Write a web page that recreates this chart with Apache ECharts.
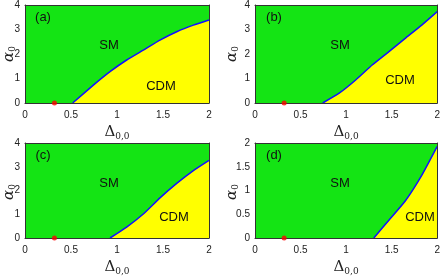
<!DOCTYPE html>
<html><head><meta charset="utf-8">
<script src="https://cdn.jsdelivr.net/npm/echarts@6/dist/echarts.min.js"></script>
<style>html,body{margin:0;padding:0;background:#fff}#c{width:443px;height:277px}</style>
</head><body><div id="c"></div>
<script>
// Phase boundary data (Delta_{0,0}, alpha_0) for each panel
const boundaryA_x = [0.518, 0.743, 0.924, 1.105, 1.286, 1.467, 1.649, 1.83, 2.0];
const boundaryA_y = [0, 0.73, 1.28, 1.755, 2.16, 2.57, 2.91, 3.18, 3.39];
const boundaryB_x = [0.743, 0.924, 1.105, 1.286, 1.467, 1.649, 1.83, 2.0];
const boundaryB_y = [0, 0.4, 0.94, 1.55, 2.09, 2.64, 3.18, 3.73];
const boundaryC_x = [0.924, 1.105, 1.286, 1.467, 1.649, 1.83, 2.0];
const boundaryC_y = [0, 0.46, 1.01, 1.69, 2.3, 2.84, 3.27];
const boundaryD_x = [1.304, 1.467, 1.649, 1.83, 2.0];
const boundaryD_y = [0, 0.37, 0.78, 1.32, 1.93];
const redPoint = [0.32, 0];
const xTicks = [0, 0.5, 1, 1.5, 2];
const yMaxes = [4, 4, 4, 2];
const yIntervals = [1, 1, 1, 0.5];
const panelLabels = ['(a)', '(b)', '(c)', '(d)'];

const bx = [boundaryA_x, boundaryB_x, boundaryC_x, boundaryD_x];
const by = [boundaryA_y, boundaryB_y, boundaryC_y, boundaryD_y];
const grids = [
  {left: 25, top: 5}, {left: 255, top: 5}, {left: 25, top: 143}, {left: 255, top: 143}
];
const W = 184, H = 98;
const GREEN = '#14e414', YELLOW = '#ffff00';
const tickFont = {fontFamily: 'Liberation Sans, Arial', fontSize: 10, color: '#222'};
const yNameX = [9, 232, 9, 232];

const option = {grid: [], xAxis: [], yAxis: [], series: [], graphic: [], animation: false};
for (let i = 0; i < 4; i++) {
  option.grid.push({left: grids[i].left, top: grids[i].top, width: W, height: H,
    show: true, backgroundColor: GREEN, borderWidth: 0});
  const axLine = {show: true, onZero: false, lineStyle: {color: '#333', width: 1}};
  option.xAxis.push({gridIndex: i, type: 'value', min: 0, max: 2, interval: 0.5, z: 5,
    axisLine: axLine, axisTick: {show: false}, splitLine: {show: false},
    axisLabel: Object.assign({margin: 7}, tickFont),
    name: '{d|Δ}{s|0,0}', nameLocation: 'middle', nameGap: 20,
    nameTextStyle: {rich: {
      d: {fontFamily: 'DejaVu Serif, serif', fontSize: 15, color: '#222'},
      s: {fontFamily: 'DejaVu Serif, serif', fontSize: 9, color: '#222', padding: [9, 0, 0, 0]}
    }}});
  option.xAxis.push({gridIndex: i, type: 'value', min: 0, max: 2, position: 'top', z: 5,
    axisLine: axLine, axisTick: {show: false}, splitLine: {show: false}, axisLabel: {show: false}});
  option.yAxis.push({gridIndex: i, type: 'value', min: 0, max: yMaxes[i], interval: yIntervals[i], z: 5,
    axisLine: axLine, axisTick: {show: false}, splitLine: {show: false},
    axisLabel: Object.assign({margin: 5}, tickFont)});
  option.yAxis.push({gridIndex: i, type: 'value', min: 0, max: yMaxes[i], position: 'right', z: 5,
    axisLine: axLine, axisTick: {show: false}, splitLine: {show: false}, axisLabel: {show: false}});
  option.series.push({type: 'line', xAxisIndex: 2 * i, yAxisIndex: 2 * i, showSymbol: false,
    smooth: 0.15,
    data: bx[i].map((x, k) => [x, by[i][k]]),
    lineStyle: {color: '#1010ff', width: 1.5},
    areaStyle: {color: YELLOW, opacity: 1, origin: 'start'}, z: 2});
  option.series.push({type: 'scatter', xAxisIndex: 2 * i, yAxisIndex: 2 * i, symbolSize: 5,
    data: [redPoint], itemStyle: {color: '#ff0000'}, z: 6});
  // rotated y-axis title alpha_0
  option.graphic.push({type: 'text', x: yNameX[i], y: grids[i].top + H / 2, rotation: Math.PI / 2, z: 10,
    style: {text: '{a|α}{s|0}', textAlign: 'center', textVerticalAlign: 'middle',
      rich: {
        a: {fontFamily: 'DejaVu Serif, serif', fontStyle: 'italic', fontSize: 15, fill: '#222'},
        s: {fontFamily: 'DejaVu Serif, serif', fontSize: 9, fill: '#222', padding: [8, 0, 0, 0]}
      }}});
}
const labelPos = [
  {p: [43, 17], sm: [109, 45], cdm: [161, 86]},
  {p: [274, 17], sm: [340, 45], cdm: [400, 80]},
  {p: [43, 155], sm: [109, 183], cdm: [174, 217]},
  {p: [274, 155], sm: [340, 183], cdm: [420, 217]}
];
const txt = (t, pos) => ({type: 'text', x: pos[0], y: pos[1], z: 10,
  style: {text: t, fontFamily: 'Liberation Sans, Arial', fontSize: 13, fill: '#111',
    textAlign: 'center', textVerticalAlign: 'middle'}});
for (let i = 0; i < 4; i++) {
  option.graphic.push(txt(panelLabels[i], labelPos[i].p));
  option.graphic.push(txt('SM', labelPos[i].sm));
  option.graphic.push(txt('CDM', labelPos[i].cdm));
}
echarts.init(document.getElementById('c')).setOption(option);
</script></body></html>
